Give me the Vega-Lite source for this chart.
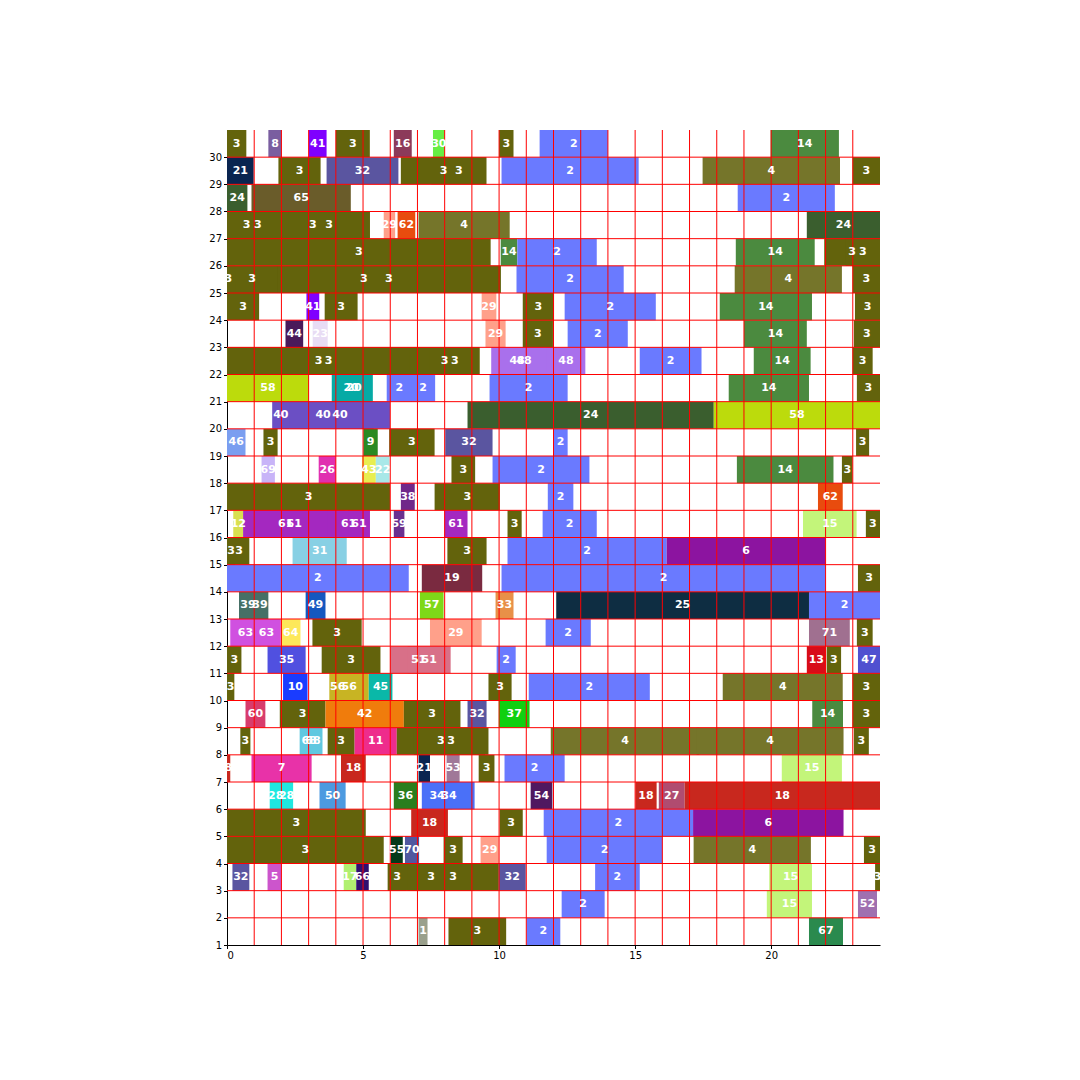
{
"$schema": "https://vega.github.io/schema/vega-lite/v6.json",
"width": 653, "height": 815,
"autosize": "none",
"padding": {"left": 227, "top": 130, "right": 200, "bottom": 135},
"background": "white",
"config": {
  "view": {"stroke": null},
  "axis": {"labelFont": "DejaVu Sans", "labelFontSize": 10, "labelColor": "black", "tickColor": "black", "domainColor": "black", "tickSize": 3.5, "labelPadding": 2, "grid": false, "title": null, "zindex": 1, "labelOverlap": false, "labelBound": false}
},
"datasets": {
"bars": [
{"day":30,"start":0,"end":0.71,"id":"3"},{"day":30,"start":1.52,"end":2.01,"id":"8"},{"day":30,"start":3.01,"end":3.66,"id":"41"},{"day":30,"start":4.0,"end":5.25,"id":"3"},{"day":30,"start":6.13,"end":6.79,"id":"16"},{"day":30,"start":7.57,"end":8.0,"id":"30"},{"day":30,"start":10.0,"end":10.53,"id":"3"},{"day":30,"start":11.49,"end":14.0,"id":"2"},{"day":30,"start":19.98,"end":22.49,"id":"14"},
{"day":29,"start":0,"end":0.98,"id":"21"},{"day":29,"start":1.89,"end":3.44,"id":"3"},{"day":29,"start":3.66,"end":6.3,"id":"32"},{"day":29,"start":6.39,"end":9.53,"id":"3"},{"day":29,"start":7.51,"end":9.53,"id":"3"},{"day":29,"start":10.09,"end":15.13,"id":"2"},{"day":29,"start":17.48,"end":22.53,"id":"4"},{"day":29,"start":22.99,"end":24,"id":"3"},
{"day":28,"start":0,"end":0.75,"id":"24"},{"day":28,"start":0.9,"end":4.55,"id":"65"},{"day":28,"start":18.77,"end":22.34,"id":"2"},
{"day":27,"start":0,"end":1.44,"id":"3"},{"day":27,"start":0,"end":2.26,"id":"3"},{"day":27,"start":1.05,"end":5.25,"id":"3"},{"day":27,"start":2.25,"end":5.25,"id":"3"},{"day":27,"start":5.76,"end":6.18,"id":"29"},{"day":27,"start":6.27,"end":6.92,"id":"62"},{"day":27,"start":7.04,"end":10.39,"id":"4"},{"day":27,"start":21.31,"end":24,"id":"24"},
{"day":26,"start":0,"end":9.69,"id":"3"},{"day":26,"start":10.06,"end":10.67,"id":"14"},{"day":26,"start":10.67,"end":13.59,"id":"2"},{"day":26,"start":18.7,"end":21.6,"id":"14"},{"day":26,"start":21.95,"end":24,"id":"3"},{"day":26,"start":22.74,"end":24,"id":"3"},
{"day":25,"start":0,"end":10.06,"id":"3"},{"day":25,"start":1.84,"end":10.06,"id":"3"},{"day":25,"start":0,"end":1.84,"id":"3"},{"day":25,"start":-0.2,"end":0.3,"id":"3"},{"day":25,"start":10.64,"end":14.58,"id":"2"},{"day":25,"start":18.66,"end":22.6,"id":"4"},{"day":25,"start":22.99,"end":24,"id":"3"},
{"day":24,"start":0,"end":1.18,"id":"3"},{"day":24,"start":2.92,"end":3.39,"id":"41"},{"day":24,"start":3.59,"end":4.8,"id":"3"},{"day":24,"start":9.36,"end":9.9,"id":"29"},{"day":24,"start":10.87,"end":12.02,"id":"3"},{"day":24,"start":12.41,"end":15.76,"id":"2"},{"day":24,"start":18.11,"end":21.5,"id":"14"},{"day":24,"start":23.08,"end":24,"id":"3"},
{"day":23,"start":2.15,"end":2.8,"id":"44"},{"day":23,"start":3.15,"end":3.7,"id":"23"},{"day":23,"start":9.5,"end":10.24,"id":"29"},{"day":23,"start":10.87,"end":11.98,"id":"3"},{"day":23,"start":12.52,"end":14.73,"id":"2"},{"day":23,"start":19.0,"end":21.31,"id":"14"},{"day":23,"start":23.04,"end":24,"id":"3"},
{"day":22,"start":0,"end":6.74,"id":"3"},{"day":22,"start":0,"end":7.46,"id":"3"},{"day":22,"start":6.72,"end":9.28,"id":"3"},{"day":22,"start":7.46,"end":9.28,"id":"3"},{"day":22,"start":9.72,"end":11.6,"id":"48"},{"day":22,"start":9.72,"end":12.12,"id":"48"},{"day":22,"start":11.75,"end":13.17,"id":"48"},{"day":22,"start":15.17,"end":17.44,"id":"2"},{"day":22,"start":19.36,"end":21.45,"id":"14"},{"day":22,"start":22.99,"end":23.73,"id":"3"},
{"day":21,"start":0,"end":3.01,"id":"58"},{"day":21,"start":3.85,"end":5.27,"id":"20"},{"day":21,"start":3.98,"end":5.36,"id":"20"},{"day":21,"start":5.87,"end":6.8,"id":"2"},{"day":21,"start":6.77,"end":7.65,"id":"2"},{"day":21,"start":9.65,"end":12.52,"id":"2"},{"day":21,"start":18.44,"end":21.39,"id":"14"},{"day":21,"start":23.15,"end":24,"id":"3"},
{"day":20,"start":1.67,"end":2.29,"id":"40"},{"day":20,"start":1.67,"end":5.39,"id":"40"},{"day":20,"start":2.31,"end":5.99,"id":"40"},{"day":20,"start":8.84,"end":17.89,"id":"24"},{"day":20,"start":17.89,"end":24,"id":"58"},
{"day":19,"start":0,"end":0.68,"id":"46"},{"day":19,"start":1.34,"end":1.86,"id":"3"},{"day":19,"start":5.01,"end":5.54,"id":"9"},{"day":19,"start":5.96,"end":7.63,"id":"3"},{"day":19,"start":8.02,"end":9.76,"id":"32"},{"day":19,"start":12.0,"end":12.52,"id":"2"},{"day":19,"start":23.12,"end":23.6,"id":"3"},
{"day":18,"start":1.27,"end":1.76,"id":"69"},{"day":18,"start":3.37,"end":4.0,"id":"26"},{"day":18,"start":4.96,"end":5.47,"id":"43"},{"day":18,"start":5.47,"end":5.97,"id":"22"},{"day":18,"start":8.25,"end":9.12,"id":"3"},{"day":18,"start":9.76,"end":13.32,"id":"2"},{"day":18,"start":18.74,"end":22.29,"id":"14"},{"day":18,"start":22.6,"end":22.99,"id":"3"},
{"day":17,"start":0,"end":5.99,"id":"3"},{"day":17,"start":6.39,"end":6.9,"id":"38"},{"day":17,"start":7.63,"end":10.03,"id":"3"},{"day":17,"start":11.79,"end":12.73,"id":"2"},{"day":17,"start":21.72,"end":22.63,"id":"62"},
{"day":16,"start":0.23,"end":0.6,"id":"12"},{"day":16,"start":0.6,"end":3.72,"id":"61"},{"day":16,"start":0.6,"end":4.34,"id":"61"},{"day":16,"start":3.69,"end":5.25,"id":"61"},{"day":16,"start":4.45,"end":5.25,"id":"61"},{"day":16,"start":6.13,"end":6.52,"id":"59"},{"day":16,"start":7.99,"end":8.84,"id":"61"},{"day":16,"start":10.31,"end":10.83,"id":"3"},{"day":16,"start":11.6,"end":13.59,"id":"2"},{"day":16,"start":21.17,"end":23.14,"id":"15"},{"day":16,"start":23.48,"end":24,"id":"3"},
{"day":15,"start":0,"end":0.3,"id":"3"},{"day":15,"start":0.06,"end":0.82,"id":"3"},{"day":15,"start":2.41,"end":4.4,"id":"31"},{"day":15,"start":8.1,"end":9.54,"id":"3"},{"day":15,"start":10.31,"end":16.16,"id":"2"},{"day":15,"start":16.16,"end":22.0,"id":"6"},
{"day":14,"start":0,"end":6.68,"id":"2"},{"day":14,"start":7.16,"end":9.38,"id":"19"},{"day":14,"start":10.09,"end":22.0,"id":"2"},{"day":14,"start":23.19,"end":24,"id":"3"},
{"day":13,"start":0.44,"end":1.1,"id":"39"},{"day":13,"start":0.9,"end":1.52,"id":"39"},{"day":13,"start":2.89,"end":3.62,"id":"49"},{"day":13,"start":7.09,"end":7.96,"id":"57"},{"day":13,"start":9.87,"end":10.53,"id":"33"},{"day":13,"start":12.1,"end":21.39,"id":"25"},{"day":13,"start":21.39,"end":24,"id":"2"},
{"day":12,"start":0.12,"end":1.24,"id":"63"},{"day":12,"start":0.92,"end":1.98,"id":"63"},{"day":12,"start":1.98,"end":2.7,"id":"64"},{"day":12,"start":3.14,"end":4.95,"id":"3"},{"day":12,"start":7.46,"end":9.36,"id":"29"},{"day":12,"start":11.71,"end":13.37,"id":"2"},{"day":12,"start":21.39,"end":22.89,"id":"71"},{"day":12,"start":23.15,"end":23.73,"id":"3"},
{"day":11,"start":0,"end":0.53,"id":"3"},{"day":11,"start":1.49,"end":2.89,"id":"35"},{"day":11,"start":3.48,"end":5.64,"id":"3"},{"day":11,"start":5.99,"end":8.09,"id":"51"},{"day":11,"start":6.64,"end":8.22,"id":"51"},{"day":11,"start":9.91,"end":10.61,"id":"2"},{"day":11,"start":21.31,"end":22.01,"id":"13"},{"day":11,"start":22.04,"end":22.57,"id":"3"},{"day":11,"start":23.19,"end":24,"id":"47"},
{"day":10,"start":0,"end":0.27,"id":"3"},{"day":10,"start":2.06,"end":2.96,"id":"10"},{"day":10,"start":3.77,"end":4.37,"id":"56"},{"day":10,"start":3.77,"end":5.21,"id":"56"},{"day":10,"start":5.21,"end":6.08,"id":"45"},{"day":10,"start":9.61,"end":10.46,"id":"3"},{"day":10,"start":11.09,"end":15.54,"id":"2"},{"day":10,"start":18.22,"end":22.63,"id":"4"},{"day":10,"start":22.99,"end":24,"id":"3"},
{"day":9,"start":0.68,"end":1.41,"id":"60"},{"day":9,"start":1.94,"end":3.62,"id":"3"},{"day":9,"start":3.62,"end":6.5,"id":"42"},{"day":9,"start":6.5,"end":8.58,"id":"3"},{"day":9,"start":8.84,"end":9.54,"id":"32"},{"day":9,"start":9.99,"end":11.12,"id":"37"},{"day":9,"start":21.51,"end":22.64,"id":"14"},{"day":9,"start":22.99,"end":24,"id":"3"},
{"day":8,"start":0.49,"end":0.86,"id":"3"},{"day":8,"start":2.67,"end":3.36,"id":"68"},{"day":8,"start":2.81,"end":3.51,"id":"68"},{"day":8,"start":3.7,"end":4.69,"id":"3"},{"day":8,"start":4.69,"end":6.24,"id":"11"},{"day":8,"start":6.24,"end":9.48,"id":"3"},{"day":8,"start":6.87,"end":9.61,"id":"3"},{"day":8,"start":11.9,"end":17.36,"id":"4"},{"day":8,"start":17.26,"end":22.66,"id":"4"},{"day":8,"start":23.04,"end":23.59,"id":"3"},
{"day":7,"start":-0.3,"end":0.12,"id":"18"},{"day":7,"start":0.9,"end":3.11,"id":"7"},{"day":7,"start":4.19,"end":5.1,"id":"18"},{"day":7,"start":7.04,"end":7.46,"id":"21"},{"day":7,"start":8.07,"end":8.55,"id":"53"},{"day":7,"start":9.25,"end":9.83,"id":"3"},{"day":7,"start":10.2,"end":12.41,"id":"2"},{"day":7,"start":20.39,"end":22.6,"id":"15"},
{"day":6,"start":1.57,"end":2.01,"id":"28"},{"day":6,"start":1.95,"end":2.43,"id":"28"},{"day":6,"start":3.4,"end":4.36,"id":"50"},{"day":6,"start":6.13,"end":6.99,"id":"36"},{"day":6,"start":7.16,"end":8.28,"id":"34"},{"day":6,"start":7.22,"end":9.1,"id":"34"},{"day":6,"start":11.16,"end":11.96,"id":"54"},{"day":6,"start":15.01,"end":15.79,"id":"18"},{"day":6,"start":15.87,"end":16.82,"id":"27"},{"day":6,"start":16.82,"end":24,"id":"18"},
{"day":5,"start":0,"end":5.1,"id":"3"},{"day":5,"start":6.77,"end":8.12,"id":"18"},{"day":5,"start":10.02,"end":10.87,"id":"3"},{"day":5,"start":11.64,"end":17.13,"id":"2"},{"day":5,"start":17.13,"end":22.66,"id":"6"},
{"day":4,"start":0,"end":5.76,"id":"3"},{"day":4,"start":6.02,"end":6.46,"id":"55"},{"day":4,"start":6.54,"end":7.06,"id":"70"},{"day":4,"start":7.96,"end":8.66,"id":"3"},{"day":4,"start":9.32,"end":9.99,"id":"29"},{"day":4,"start":11.75,"end":16.0,"id":"2"},{"day":4,"start":17.15,"end":21.46,"id":"4"},{"day":4,"start":23.41,"end":24,"id":"3"},
{"day":3,"start":0.2,"end":0.82,"id":"32"},{"day":3,"start":1.49,"end":2.0,"id":"5"},{"day":3,"start":4.29,"end":4.75,"id":"17"},{"day":3,"start":4.75,"end":5.21,"id":"66"},{"day":3,"start":5.91,"end":6.59,"id":"3"},{"day":3,"start":5.91,"end":9.09,"id":"3"},{"day":3,"start":6.63,"end":9.99,"id":"3"},{"day":3,"start":9.99,"end":10.98,"id":"32"},{"day":3,"start":13.53,"end":15.17,"id":"2"},{"day":3,"start":19.93,"end":21.5,"id":"15"},{"day":3,"start":23.82,"end":24,"id":"3"},
{"day":2,"start":12.3,"end":13.88,"id":"2"},{"day":2,"start":19.84,"end":21.5,"id":"15"},{"day":2,"start":23.19,"end":23.89,"id":"52"},
{"day":1,"start":7.04,"end":7.37,"id":"1"},{"day":1,"start":8.14,"end":10.26,"id":"3"},{"day":1,"start":11.01,"end":12.25,"id":"2"},{"day":1,"start":21.39,"end":22.64,"id":"67"}
],
"vlines": [{"h":1},{"h":2},{"h":3},{"h":4},{"h":5},{"h":6},{"h":7},{"h":8},{"h":9},{"h":10},{"h":11},{"h":12},{"h":13},{"h":14},{"h":15},{"h":16},{"h":17},{"h":18},{"h":19},{"h":20},{"h":21},{"h":22},{"h":23}],
"hlines": [{"d":2},{"d":3},{"d":4},{"d":5},{"d":6},{"d":7},{"d":8},{"d":9},{"d":10},{"d":11},{"d":12},{"d":13},{"d":14},{"d":15},{"d":16},{"d":17},{"d":18},{"d":19},{"d":20},{"d":21},{"d":22},{"d":23},{"d":24},{"d":25},{"d":26},{"d":27},{"d":28},{"d":29},{"d":30}]
},
"layer": [
{
  "data": {"name": "bars"},
  "transform": [{"calculate": "datum.day + 1", "as": "top"}],
  "mark": {"type": "bar", "clip": true, "cornerRadius": 0},
  "encoding": {
    "x": {"field": "start", "type": "quantitative", "scale": {"domain": [0, 24], "nice": false, "zero": false}, "axis": {"values": [0, 5, 10, 15, 20], "labelOverlap": false}},
    "x2": {"field": "end"},
    "y": {"field": "day", "type": "quantitative", "scale": {"domain": [1, 31], "nice": false, "zero": false}, "axis": {"values": [1,2,3,4,5,6,7,8,9,10,11,12,13,14,15,16,17,18,19,20,21,22,23,24,25,26,27,28,29,30], "labelOverlap": false, "labelFlush": false}},
    "y2": {"field": "top"},
    "color": {"field": "id", "type": "nominal", "legend": null, "scale": {
      "domain": ["1","2","3","4","5","6","7","8","9","10","11","12","13","14","15","16","17","18","19","20","21","22","23","24","25","26","27","28","29","30","31","32","33","34","35","36","37","38","39","40","41","42","43","44","45","46","47","48","49","50","51","52","53","54","55","56","57","58","59","60","61","62","63","64","65","66","67","68","69","70","71"],
      "range": ["#9aa08c","#6a7aff","#63630c","#75752a","#cc55cc","#8c14a0","#e832a8","#7a5ea0","#2a8a22","#1a3cff","#ee2c8c","#d8e050","#d80c18","#4b8a3f","#c3f57a","#8c3a5a","#b0f070","#c8281e","#7a2a40","#05aaa5","#0a2550","#a8e8e8","#e8dcf4","#3a5e2e","#0e2d42","#e030b0","#b04c70","#1ee8e0","#ffa08a","#66ee44","#88d0e4","#5a55a0","#e89048","#4a70f8","#5050e0","#2a7e1e","#10d010","#70288a","#467066","#6b4fc4","#7f00ff","#f07c0c","#e8ee50","#4a1a5a","#0ab8a8","#7a9ef0","#5050d0","#a970ec","#1458c0","#4c9ae0","#d87088","#a070b0","#a07898","#501860","#053a1a","#c8b423","#7ed818","#bcdb0c","#6a3090","#d83c6c","#a428c0","#e84c0e","#d050e0","#fde85a","#6a5c2a","#301070","#2a8a4e","#60c8e0","#c8b4f8","#5058a0","#a07090"]
    }}
  }
},
{
  "data": {"name": "vlines"},
  "mark": {"type": "rule", "color": "#ff0000", "strokeWidth": 1},
  "encoding": {"x": {"field": "h", "type": "quantitative", "axis": {"values": [0, 5, 10, 15, 20], "labelOverlap": false}}}
},
{
  "data": {"name": "hlines"},
  "mark": {"type": "rule", "color": "#ff0000", "strokeWidth": 1},
  "encoding": {"y": {"field": "d", "type": "quantitative", "axis": {"values": [1,2,3,4,5,6,7,8,9,10,11,12,13,14,15,16,17,18,19,20,21,22,23,24,25,26,27,28,29,30], "labelOverlap": false, "labelFlush": false}}}
},
{
  "data": {"name": "bars"},
  "transform": [{"calculate": "(datum.start + datum.end) / 2", "as": "mid"}, {"calculate": "datum.day + 0.5", "as": "ymid"}],
  "mark": {"type": "text", "color": "white", "font": "DejaVu Sans", "fontSize": 11, "fontWeight": "bold", "align": "center", "baseline": "middle", "clip": true},
  "encoding": {
    "x": {"field": "mid", "type": "quantitative", "axis": {"values": [0, 5, 10, 15, 20], "labelOverlap": false}},
    "y": {"field": "ymid", "type": "quantitative", "axis": {"values": [1,2,3,4,5,6,7,8,9,10,11,12,13,14,15,16,17,18,19,20,21,22,23,24,25,26,27,28,29,30], "labelOverlap": false, "labelFlush": false}},
    "text": {"field": "id", "type": "nominal"}
  }
},
{
  "mark": {"type": "rule", "color": "black", "strokeWidth": 1},
  "encoding": {"x": {"datum": 24, "type": "quantitative", "axis": {"values": [0, 5, 10, 15, 20], "labelOverlap": false}}}
},
{
  "mark": {"type": "rule", "color": "black", "strokeWidth": 1},
  "encoding": {"y": {"datum": 31, "type": "quantitative", "axis": {"values": [1,2,3,4,5,6,7,8,9,10,11,12,13,14,15,16,17,18,19,20,21,22,23,24,25,26,27,28,29,30], "labelOverlap": false, "labelFlush": false}}}
}
]
}
